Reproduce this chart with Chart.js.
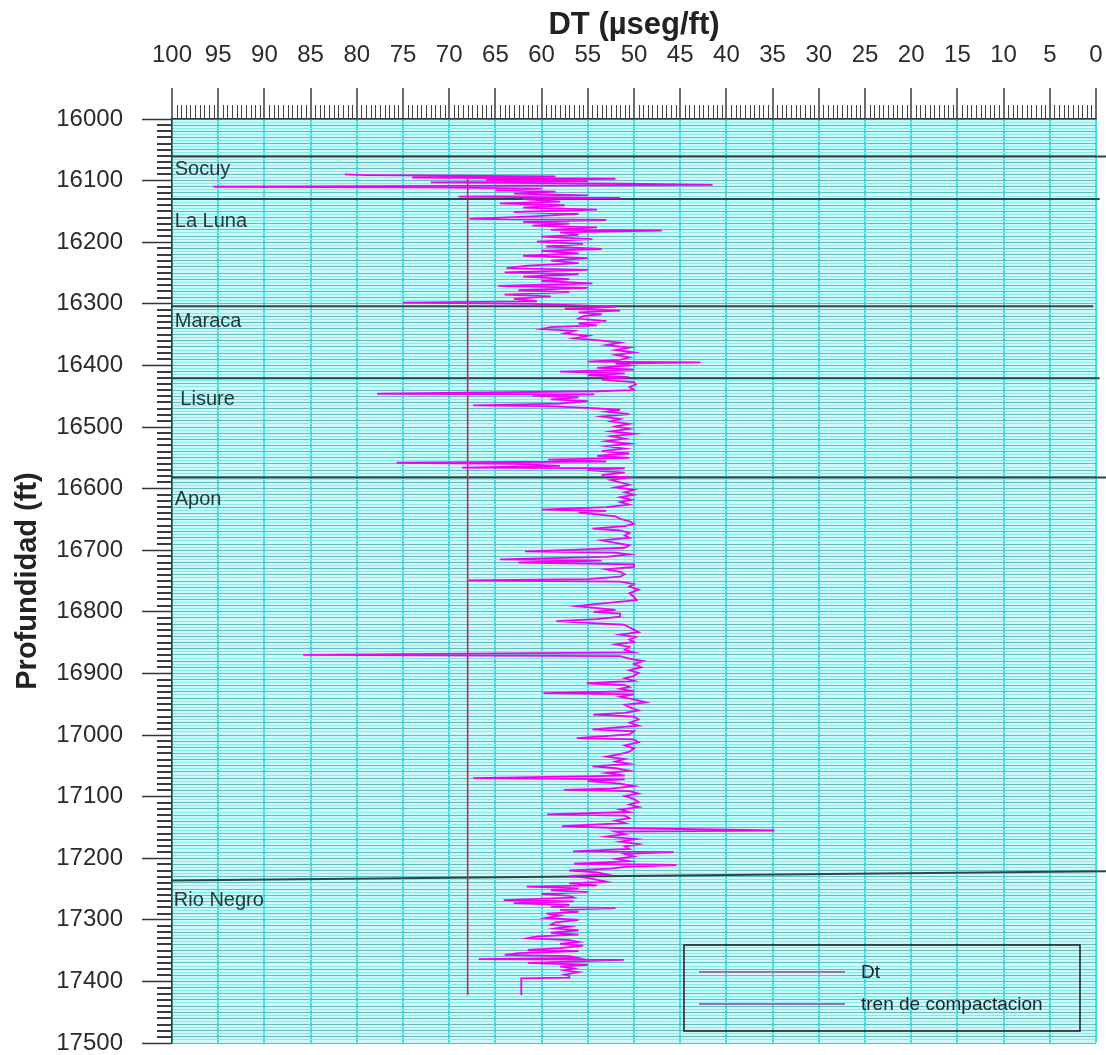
<!DOCTYPE html>
<html lang="es">
<head>
<meta charset="UTF-8">
<title>DT vs Profundidad</title>
<script src="https://cdn.jsdelivr.net/npm/chart.js"></script>
<style>
    html, body { margin: 0; padding: 0; background: #fff; overflow: hidden; }
    .chart-box { width: 1106px; height: 1055px; }
</style>
</head>
<body>
<div class="chart-box"><canvas id="dtChart"></canvas></div>
<script>
// registro sonico: profundidad (ft) y DT (useg/ft)
const depthFt = [
    16090, 16091, 16092, 16093, 16095, 16097, 16099, 16101, 16103, 16105,
    16107, 16108, 16110, 16111, 16113, 16116, 16118, 16121, 16124, 16126,
    16128, 16130, 16134, 16137, 16140, 16144, 16147, 16151, 16154, 16158,
    16162, 16164, 16167, 16170, 16173, 16176, 16180, 16181, 16184, 16188,
    16191, 16195, 16199, 16203, 16207, 16211, 16214, 16218, 16222, 16226,
    16230, 16234, 16238, 16242, 16245, 16249, 16252, 16256, 16260, 16263,
    16267, 16271, 16274, 16278, 16281, 16285, 16288, 16292, 16296, 16298,
    16300, 16303, 16305, 16308, 16311, 16314, 16317, 16320, 16324, 16328,
    16332, 16335, 16338, 16341, 16344, 16348, 16352, 16356, 16359, 16363,
    16367, 16371, 16375, 16379, 16383, 16387, 16391, 16394, 16395, 16397,
    16400, 16404, 16407, 16410, 16413, 16416, 16419, 16423, 16427, 16431,
    16435, 16440, 16442, 16446, 16447, 16449, 16452, 16455, 16458, 16462,
    16465, 16466, 16469, 16472, 16475, 16479, 16483, 16487, 16491, 16495,
    16499, 16503, 16507, 16511, 16515, 16519, 16523, 16527, 16531, 16535,
    16539, 16543, 16547, 16550, 16553, 16556, 16558, 16560, 16563, 16566,
    16567, 16570, 16574, 16578, 16582, 16586, 16590, 16594, 16598, 16602,
    16606, 16610, 16614, 16618, 16622, 16626, 16630, 16634, 16636, 16639,
    16642, 16645, 16649, 16653, 16657, 16661, 16665, 16668, 16672, 16676,
    16680, 16684, 16688, 16692, 16696, 16699, 16702, 16704, 16707, 16711,
    16715, 16717, 16720, 16723, 16727, 16731, 16735, 16739, 16743, 16747,
    16749, 16751, 16755, 16759, 16764, 16770, 16776, 16781, 16785, 16788,
    16791, 16794, 16797, 16800, 16803, 16808, 16812, 16815, 16818, 16821,
    16825, 16829, 16833, 16837, 16841, 16845, 16849, 16853, 16857, 16862,
    16866, 16870, 16872, 16876, 16880, 16885, 16890, 16895, 16899, 16904,
    16908, 16912, 16916, 16919, 16922, 16925, 16929, 16932, 16934, 16938,
    16942, 16947, 16951, 16955, 16960, 16964, 16967, 16970, 16975, 16980,
    16985, 16991, 16994, 16999, 17005, 17007, 17012, 17017, 17022, 17027,
    17031, 17035, 17039, 17043, 17047, 17051, 17054, 17058, 17062, 17066,
    17070, 17072, 17075, 17079, 17083, 17087, 17089, 17091, 17095, 17099,
    17104, 17109, 17113, 17117, 17121, 17125, 17129, 17131, 17135, 17139,
    17143, 17148, 17151, 17155, 17157, 17161, 17165, 17169, 17173, 17177,
    17181, 17185, 17189, 17190, 17193, 17197, 17201, 17205, 17209, 17211,
    17214, 17217, 17220, 17223, 17226, 17229, 17232, 17235, 17238, 17241,
    17244, 17246, 17249, 17252, 17255, 17258, 17261, 17264, 17268, 17270,
    17273, 17276, 17279, 17281, 17284, 17287, 17290, 17293, 17297, 17300,
    17304, 17308, 17311, 17314, 17317, 17321, 17324, 17327, 17330, 17333,
    17336, 17339, 17342, 17346, 17349, 17351, 17354, 17357, 17359, 17362,
    17364, 17365, 17368, 17370, 17373, 17376, 17379, 17382, 17385, 17389,
    17391, 17394, 17395, 17422
];
const dtValues = [
    81.3, 79, 70, 58.5, 74, 52, 66, 55, 72, 51,
    41.5, 62, 95.5, 72, 60, 65, 58.5, 63, 55, 69,
    51.5, 62, 58, 64.5, 57.5, 62, 54, 63, 56, 61,
    67.8, 53, 62, 57, 61, 54, 59, 47, 58, 56,
    60, 54.5, 60.5, 55.5, 59.5, 53.5, 60, 56, 62, 55,
    59, 56, 61.5, 63.8, 55, 64, 56, 62, 57, 60,
    54.5, 64.7, 55, 62.5, 57, 64, 59, 63, 60.5, 75,
    61, 55, 52, 57.5, 51.5, 56, 53.5, 55.5, 56, 53,
    56, 54, 59, 60, 56.5, 57.5, 55, 56.5, 54, 51.5,
    53, 50.5, 52, 50, 52, 50.5, 51.5, 55, 42.8, 52,
    50.5, 54, 50, 58, 51, 55, 50.5, 53.5, 50, 49.8,
    50.5, 50, 54, 77.8, 54.3, 61, 56, 59, 55, 58,
    67.4, 59.7, 55, 51.5, 53, 50.5, 53.5, 51.5, 52.5, 50.5,
    52, 50.5, 52.5, 50, 52.5, 51, 53, 50.5, 53, 51,
    53.5, 50.5, 54, 50.5, 59.3, 53, 75.7, 63, 58, 68.6,
    51, 55, 51, 53.5, 50.5, 52.5, 51.5, 50.5, 52, 50,
    51, 50, 51.5, 50.3, 51.5, 50.5, 53, 60, 53, 56,
    54, 52, 51.5, 50.5, 50, 51, 54.5, 51.5, 50.5, 51,
    50.5, 53.5, 52, 50.5, 51, 56, 61.8, 52, 50.5, 53,
    64.5, 53.5, 62.5, 50, 50, 53, 51.5, 51, 51.5, 55,
    67.9, 51.5, 50, 50.5, 49.5, 50.5, 50, 49.7, 52.5, 54.5,
    56.2, 54, 52, 54.4, 51.5, 51.5, 54, 58.4, 55, 51.1,
    50.5, 50, 49.5, 51.5, 49.8, 50.5, 50, 52, 50.5, 51,
    50, 85.8, 51.5, 50.5, 49, 50, 49.2, 50.5, 49.5, 50,
    51, 50, 55.1, 51, 50.5, 51.5, 50, 59.8, 50, 51.5,
    50, 48.7, 51, 50.5, 49.5, 51, 54.4, 50, 49.5, 50.5,
    49.5, 54.5, 50, 50.5, 56.2, 50, 49.5, 51, 50, 50.5,
    51.5, 53, 51, 52, 50.5, 54.5, 52, 50.5, 53, 51,
    67.4, 51, 55, 51.5, 50, 52.5, 57.6, 50.5, 49.5, 51,
    50, 49.5, 50.5, 49.5, 51.5, 50.5, 59.4, 51, 50.5, 52,
    51, 57.8, 52, 34.8, 52, 51, 53, 49.8, 51.5, 49.5,
    51, 50.5, 56.6, 45.7, 51, 50, 52, 50.5, 56.5, 45.4,
    51, 52.5, 57, 54, 53, 57, 55, 54, 53, 57,
    54, 61.6, 56, 59, 55, 60, 57, 56.5, 64.1, 56.5,
    63, 57, 59, 52, 58, 56, 59.5, 58, 59.5, 56,
    58.5, 59, 57, 58.5, 56, 59, 56, 60.5, 61.5, 57,
    56, 58, 55.5, 58, 61.5, 56, 62.5, 64, 57, 56,
    66.8, 51.1, 57, 61.5, 55, 58, 56.5, 57.5, 56, 57.5,
    57, 57, 62.2, 62.2
];

// tren de compactacion
const trendDepth = [16095, 17422];
const trendDt = [68, 68];

// topes de formaciones (profundidad en DT 100 y en el extremo derecho)
const formationNames = ['Socuy', 'La Luna', 'Maraca', 'Lisure', 'Apon', 'Rio Negro'];
const formationTopLeft = [16061, 16130, 16304, 16421, 16582, 17236];
const formationTopRight = [16061, 16130, 16304, 16421, 16582, 17221];
const formationEndDt = [-1.1, -0.4, 0.3, -0.4, -1.1, -1.1];

const legendLabels = ['Dt', 'tren de compactacion'];

const FONT = '"Liberation Sans", Arial, sans-serif';

// posicion de los nombres de formacion
const labelDepth = [16082, 16167, 16329, 16456, 16618, 17269];
const labelDt = [99.7, 99.7, 99.7, 99.1, 99.7, 99.8];

const dtPoints = depthFt.map((d, i) => ({ x: dtValues[i], y: d }));
const trendPoints = trendDepth.map((d, i) => ({ x: trendDt[i], y: d }));

const formationSets = formationNames.map((name, i) => ({
    label: name,
    data: [{ x: 100, y: formationTopLeft[i] }, { x: formationEndDt[i], y: formationTopRight[i] }],
    borderColor: '#2b4646',
    borderWidth: 2,
    showLine: true,
    pointRadius: 0,
    clip: false,
    order: 3
}));

const extrasPlugin = {
    id: 'extras',
    beforeDraw(chart) {
        const { ctx, chartArea: a } = chart;
        ctx.save();
        ctx.fillStyle = '#cdf9f9';
        ctx.fillRect(a.left, a.top, a.right - a.left, a.bottom - a.top);
        ctx.restore();
    },
    afterDraw(chart) {
        const { ctx, chartArea: a, scales: { x, y } } = chart;
        ctx.save();

        // marcas menores eje superior
        ctx.strokeStyle = '#444';
        ctx.lineWidth = 1;
        for (let v = 0; v <= 100; v += 0.5) {
            if (v % 5 === 0) continue;
            const px = Math.round(x.getPixelForValue(v)) + 0.5;
            ctx.beginPath();
            ctx.moveTo(px, a.top - 14);
            ctx.lineTo(px, a.top);
            ctx.stroke();
        }

        // marcas menores eje izquierdo
        ctx.lineWidth = 2;
        ctx.strokeStyle = '#3c3c3c';
        for (let d = 16010; d < 17500; d += 10) {
            if (d % 100 === 0) continue;
            const py = Math.round(y.getPixelForValue(d));
            ctx.beginPath();
            ctx.moveTo(a.left - 15, py);
            ctx.lineTo(a.left, py);
            ctx.stroke();
        }

        // nombres de formaciones
        ctx.font = '20px ' + FONT;
        ctx.fillStyle = '#1f3838';
        ctx.textAlign = 'left';
        ctx.textBaseline = 'middle';
        formationNames.forEach((n, i) => {
            ctx.fillText(n, x.getPixelForValue(labelDt[i]), y.getPixelForValue(labelDepth[i]));
        });

        // leyenda
        const bx = a.right - 412, by = a.bottom - 98, bw = 396, bh = 86;
        ctx.strokeStyle = '#1a1a1a';
        ctx.lineWidth = 1.5;
        ctx.strokeRect(bx, by, bw, bh);
        ctx.font = '19px ' + FONT;
        ctx.fillStyle = '#222';
        legendLabels.forEach((lbl, i) => {
            const ly = by + 27 + i * 32;
            ctx.strokeStyle = '#9a6fb0';
            ctx.lineWidth = 2;
            ctx.beginPath();
            ctx.moveTo(bx + 15, ly);
            ctx.lineTo(bx + 161, ly);
            ctx.stroke();
            ctx.fillText(lbl, bx + 177, ly + 1);
        });
        ctx.restore();
    }
};

new Chart(document.getElementById('dtChart'), {
    type: 'scatter',
    data: {
        datasets: [
            {
                label: 'Dt',
                data: dtPoints,
                borderColor: '#f000f0',
                borderWidth: 1.8,
                showLine: true,
                pointRadius: 0,
                tension: 0,
                order: 1
            },
            {
                label: 'tren de compactacion',
                data: trendPoints,
                borderColor: '#b82a55',
                borderWidth: 1.6,
                showLine: true,
                pointRadius: 0,
                order: 2
            },
            ...formationSets
        ]
    },
    options: {
        responsive: true,
        maintainAspectRatio: false,
        animation: false,
        layout: { padding: { left: 0, top: 0, right: 10, bottom: 12 } },
        plugins: {
            legend: { display: false },
            tooltip: { enabled: false }
        },
        scales: {
            x: {
                type: 'linear',
                position: 'top',
                reverse: true,
                min: 0,
                max: 100,
                ticks: {
                    stepSize: 5,
                    padding: 21,
                    autoSkip: false,
                    maxRotation: 0,
                    color: '#2b2b2b',
                    font: { family: FONT, size: 24, lineHeight: 1 }
                },
                grid: {
                    color: '#3ee0e2',
                    lineWidth: 2,
                    tickLength: 31,
                    tickColor: '#3a3a3a',
                    tickWidth: 1.5
                },
                border: { color: '#333', width: 1.5 },
                title: {
                    display: true,
                    text: 'DT (µseg/ft)',
                    color: '#222',
                    font: { family: FONT, size: 31, weight: 'bold', lineHeight: 1.2 },
                    padding: { top: 7, bottom: 0 }
                },
                afterFit(scale) {
                    scale.height = 119;
                    scale.paddingLeft = 0;
                    scale.paddingRight = 0;
                }
            },
            y: {
                type: 'linear',
                reverse: true,
                min: 16000,
                max: 17500,
                ticks: {
                    stepSize: 5,
                    autoSkip: false,
                    padding: 19,
                    color: '#2b2b2b',
                    font: { family: FONT, size: 24, lineHeight: 1 },
                    callback: v => (v % 100 === 0 ? v : '')
                },
                grid: {
                    color: c => (c.tick && c.tick.value % 10 === 0 ? '#63bcc0' : '#84ecee'),
                    lineWidth: 1,
                    tickLength: 30,
                    tickColor: c => (c.tick && c.tick.value % 100 === 0 ? '#333' : 'rgba(0,0,0,0)'),
                    tickWidth: 1.5
                },
                border: { color: '#333', width: 1.5 },
                title: {
                    display: true,
                    text: 'Profundidad (ft)',
                    color: '#222',
                    font: { family: FONT, size: 29, weight: 'bold', lineHeight: 1.2 },
                    padding: { top: 11, bottom: 0 }
                },
                afterFit(scale) {
                    scale.width = 172;
                    scale.paddingTop = 0;
                    scale.paddingBottom = 0;
                }
            }
        }
    },
    plugins: [extrasPlugin]
});
</script>
</body>
</html>
